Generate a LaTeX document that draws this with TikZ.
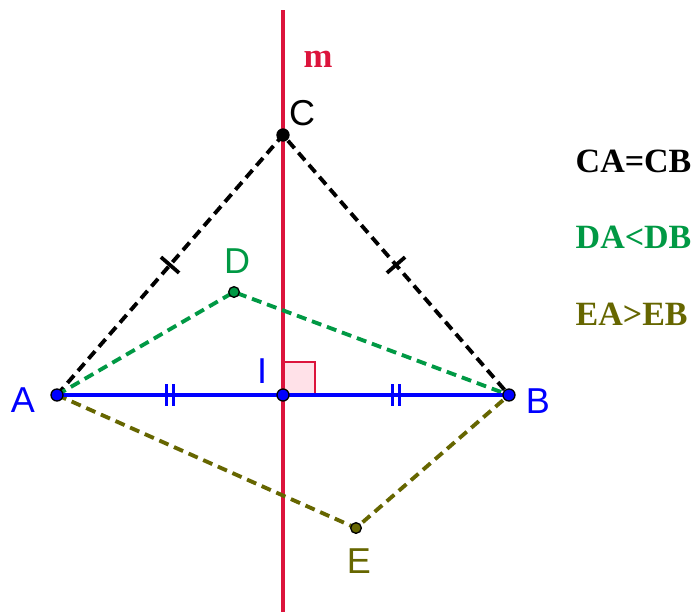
\documentclass[tikz,border=0pt]{standalone}
\usepackage{fontspec}
\setmainfont{Liberation Serif}
\newfontfamily\labelfont{Liberation Sans}
\usetikzlibrary{calc}
\definecolor{medred}{RGB}{220,20,60}
\definecolor{medgreen}{RGB}{0,153,68}
\definecolor{olivebrown}{RGB}{102,102,0}
\definecolor{anglepink}{RGB}{255,225,232}

\begin{document}
\begin{tikzpicture}[x=0.75pt,y=-0.75pt,
  seg/.style={line width=2.6pt},
  dashseg/.style={line width=2.9pt,dash pattern=on 7.5pt off 4.5pt},
  tick/.style={line width=2.8pt},
  dot/.style={circle,draw=black,line width=1pt,inner sep=0pt,minimum size=9pt},
  lbl/.style={font=\labelfont\fontsize{27}{27}\selectfont,anchor=base},
  fact/.style={font=\bfseries\fontsize{25.5}{26}\selectfont,anchor=base west}
]
\useasboundingbox (0,0) rectangle (697,612);

% points
\coordinate (A) at (57,395);
\coordinate (B) at (509,395);
\coordinate (C) at (283,135);
\coordinate (D) at (234,292);
\coordinate (E) at (356,528);
\coordinate (I) at (283,395);
\coordinate (mtop) at (283,10);
\coordinate (mbot) at (283,612);

% right angle mark
\draw[draw=medred,fill=anglepink,line width=1pt] (I) rectangle ++(32,-33);

% mediator m
\draw[seg,medred] (mtop) -- (mbot);

% dashed sides
\draw[dashseg,black] (A) -- (C) -- (B);
\draw[dashseg,medgreen] (A) -- (D) -- (B);
\draw[dashseg,olivebrown] (A) -- (E) -- (B);
\draw[seg,blue] (A) -- (B);

% equal marks
\draw[tick,black] ($(A)!0.5!(C)!9pt!90:(C)$) -- ($(A)!0.5!(C)!9pt!-90:(C)$);
\draw[tick,black] ($(B)!0.5!(C)!9pt!90:(C)$) -- ($(B)!0.5!(C)!9pt!-90:(C)$);
\foreach \s in {-3.5,3.5} {
  \draw[tick,blue] ($(A)!0.5!(I)+(\s,-11)$) -- ($(A)!0.5!(I)+(\s,11)$);
  \draw[tick,blue] ($(I)!0.5!(B)+(\s,-11)$) -- ($(I)!0.5!(B)+(\s,11)$);
}

% dots
\node[dot,fill=blue] at (A) {};
\node[dot,fill=blue] at (B) {};
\node[dot,fill=black] at (C) {};
\node[dot,fill=medgreen,minimum size=8pt] at (D) {};
\node[dot,fill=olivebrown,minimum size=8pt] at (E) {};
\node[dot,fill=blue] at (I) {};

% labels
\node[lbl,blue] (lA) at (23,412) {A};
\node[lbl,blue] (lB) at (538,413) {B};
\node[lbl,black] (lC) at (302,125) {C};
\node[lbl,medgreen] (lD) at (237,273) {D};
\node[lbl,olivebrown] (lE) at (359,573) {E};
\node[lbl,blue] (lI) at (262,383) {I};
\node[font=\bfseries\fontsize{26}{26}\selectfont,medred,anchor=base] (lm) at (318,67) {m};

% facts
\node[fact,black] (fC) at (571,172) {CA=CB};
\node[fact,medgreen] (fD) at (571,248) {DA<DB};
\node[fact,olivebrown] (fE) at (571,325) {EA>EB};
\end{tikzpicture}
\end{document}
